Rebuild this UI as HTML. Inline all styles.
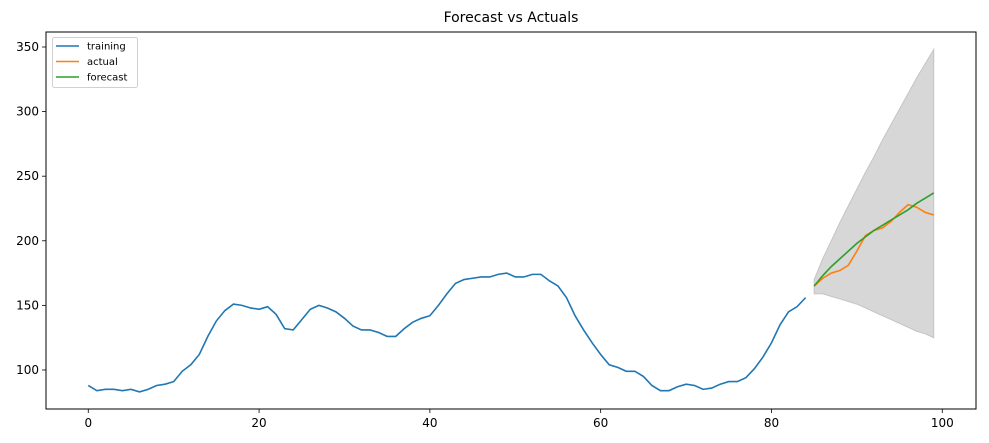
<!DOCTYPE html>
<html><head><meta charset="utf-8"><style>
body{margin:0;background:#fff;}
svg{display:block;font-family:"DejaVu Sans","Liberation Sans",sans-serif;}
</style></head><body>
<svg id="chart" width="989" height="443" viewBox="0 0 989 443" xmlns="http://www.w3.org/2000/svg"></svg>
<script>
const trainX0 = 0;
const training = [88,84,85,85,84,85,83,85,88,89,91,99,104,112,126,138,146,151,150,148,147,149,143,132,131,139,147,150,148,145,140,134,131,131,129,126,126,132,137,140,142,150,159,167,170,171,172,172,174,175,172,172,174,174,169,165,156,142,131,121,112,104,102,99,99,95,88,84,84,87,89,88,85,86,89,91,91,94,101,110,121,135,145,149,156];
const testX0 = 85;
const actual = [165,171,175,177,181,192,204,208,210,215,222,228,226,222,220];
const forecast = [165,173,180,186,192,198,203,208,212,216,220,224,229,233,237];
const lowerBound = [159,159,157,155,153,151,148,145,142,139,136,133,130,128,125];
const upperBound = [170,186,200,214,227,240,253,265,278,290,302,314,326,337,348];
const xTicks = [0,20,40,60,80,100];
const yTicks = [100,150,200,250,300,350];

const L=46,R=976,T=32,B=409;
const xMin=-4.95,xMax=103.95,yMin=69.8,yMax=361.6;
const sx=v=>L+(v-xMin)/(xMax-xMin)*(R-L);
const sy=v=>B-(v-yMin)/(yMax-yMin)*(B-T);
const svg=document.getElementById('chart');
const NS='http://www.w3.org/2000/svg';
function mk(tag,attrs,parent){const e=document.createElementNS(NS,tag);for(const k in attrs)e.setAttribute(k,attrs[k]);(parent||svg).appendChild(e);return e;}
function pts(arr,x0){return arr.map((v,i)=>sx(x0+i).toFixed(2)+','+sy(v).toFixed(2)).join(' ');}

const title=mk('text',{x:(L+R)/2,y:22,'text-anchor':'middle','font-size':'14',fill:'#000'});


title.textContent='Forecast vs Actuals';

// confidence band
let band=lowerBound.map((v,i)=>sx(testX0+i).toFixed(2)+','+sy(v).toFixed(2));
for(let i=upperBound.length-1;i>=0;i--)band.push(sx(testX0+i).toFixed(2)+','+sy(upperBound[i]).toFixed(2));
const bandEl=mk('polygon',{points:band.join(' '),fill:'#d7d7d7',stroke:'#c4c4c4','stroke-width':'1'});



const tr=mk('polyline',{points:pts(training,trainX0),fill:'none',stroke:'#1f77b4','stroke-width':'1.6'});


const ac=mk('polyline',{points:pts(actual,testX0),fill:'none',stroke:'#ff7f0e','stroke-width':'1.6'});


const fc=mk('polyline',{points:pts(forecast,testX0),fill:'none',stroke:'#2ca02c','stroke-width':'1.6'});



const frame=mk('rect',{x:L,y:T,width:R-L,height:B-T,fill:'none',stroke:'#000','stroke-width':'1'});



xTicks.forEach(t=>{
  const x=sx(t);
  const tk=mk('line',{x1:x,x2:x,y1:B,y2:B+4,stroke:'#000','stroke-width':'0.8'});
  
  
  const lb=mk('text',{x:x,y:B+18,'text-anchor':'middle','font-size':'12',fill:'#000'});
  
  
  lb.textContent=t;
});
yTicks.forEach(t=>{
  const y=sy(t);
  const tk=mk('line',{x1:L-4,x2:L,y1:y,y2:y,stroke:'#000','stroke-width':'0.8'});
  
  
  const lb=mk('text',{x:L-7,y:y+4,'text-anchor':'end','font-size':'12',fill:'#000'});
  
  
  lb.textContent=t;
});

const lg=mk('g',{});


mk('rect',{x:52.5,y:37.5,width:85,height:50,rx:2,fill:'#fff',stroke:'#d0d0d0','stroke-width':'1'},lg);
[['training','#1f77b4'],['actual','#ff7f0e'],['forecast','#2ca02c']].forEach((e,i)=>{
  const y=46+i*15.5;
  const g=mk('g',{},lg);
  
  
  mk('line',{x1:56,x2:79,y1:y,y2:y,stroke:e[1],'stroke-width':'1.6'},g);
  const t=mk('text',{x:87,y:y+3.5,'font-size':'10',fill:'#000'},g);
  t.textContent=e[0];
});
</script>
</body></html>
